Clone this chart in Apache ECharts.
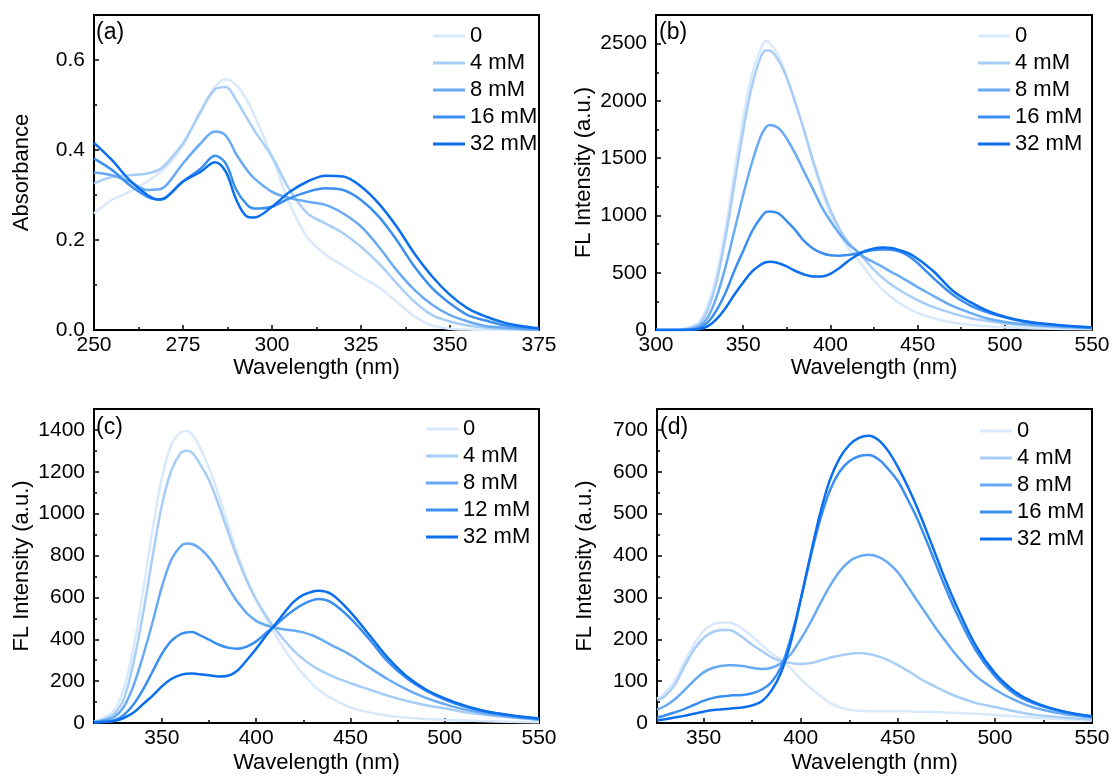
<!DOCTYPE html>
<html><head><meta charset="utf-8">
<script src="https://cdn.jsdelivr.net/npm/echarts@6/dist/echarts.min.js"></script>
<style>html,body{margin:0;padding:0;background:#fff}#chart{width:1118px;height:776px}</style>
</head><body><div id="chart"></div>
<script>
// ---------- colours ----------
const lineColors = ['#d8e9fc', '#a8cef7', '#68aaf3', '#3a8ff1', '#0b6fed'];

// ---------- panel (a): absorbance ----------
const namesA = ['0', '4 mM', '8 mM', '16 mM', '32 mM'];
const wlA = [250,255,260,265,268,270,275,280,284,287,290,293,295,300,305,310,315,320,325,330,335,340,345,350,355,360,365,370,375];
const absA_0  = [.259,.289,.307,.33,.347,.36,.41,.49,.54,.557,.544,.51,.478,.385,.28,.205,.168,.143,.118,.095,.063,.03,.01,.003,.001,0,0,0,0];
const absA_4  = [.326,.34,.344,.348,.355,.367,.415,.485,.535,.54,.51,.47,.444,.385,.311,.259,.237,.215,.185,.148,.104,.063,.033,.019,.01,.005,.003,.001,0];
const absA_8  = [.35,.344,.33,.311,.312,.319,.37,.415,.441,.432,.39,.355,.337,.307,.293,.285,.278,.259,.23,.185,.133,.089,.056,.033,.019,.009,.005,.002,.001];
const absA_16 = [.381,.356,.322,.296,.29,.294,.33,.359,.387,.37,.311,.278,.27,.274,.293,.307,.315,.311,.289,.252,.2,.141,.093,.059,.033,.021,.011,.006,.003];
const absA_32 = [.416,.378,.333,.3,.29,.293,.33,.352,.373,.352,.289,.252,.25,.274,.307,.33,.343,.341,.319,.281,.23,.17,.119,.078,.048,.03,.017,.009,.004];
const xTicksA = [250,275,300,325,350,375];
const xMinorA = [262.5,287.5,312.5,337.5,362.5];
const yTicksA = [0,0.2,0.4,0.6];
const yMinorA = [0.1,0.3,0.5];

// ---------- panel (b) ----------
const namesB = ['0', '4 mM', '8 mM', '16 mM', '32 mM'];
const wlB = [300,310,315,320,325,330,335,340,345,350,355,360,363,365,370,375,380,385,390,395,400,405,410,415,420,425,430,435,440,445,450,455,460,470,480,490,500,510,520,535,550];
const flB_0  = [0,2,6,30,75,230,500,900,1380,1850,2230,2450,2520,2510,2400,2210,1980,1730,1460,1220,1000,840,720,630,530,430,350,285,230,185,150,122,100,65,45,32,24,18,13,9,6];
const flB_4  = [0,1,4,20,55,190,440,820,1280,1740,2130,2380,2440,2440,2360,2200,1980,1740,1480,1250,1050,890,770,690,610,525,455,395,345,300,260,225,195,145,105,78,57,43,32,20,12];
const flB_8  = [0,0,2,10,35,120,300,560,870,1180,1460,1690,1770,1790,1765,1670,1535,1380,1230,1075,950,845,755,690,630,590,550,505,465,420,375,332,290,210,150,100,70,52,40,28,18];
const flB_16 = [0,0,1,5,18,72,180,330,520,690,860,980,1030,1035,1020,950,870,775,712,672,652,648,655,668,685,698,703,700,683,645,585,512,440,310,215,155,110,75,55,35,22];
const flB_32 = [0,0,0,2,8,36,100,195,310,415,510,570,592,595,585,555,515,485,468,468,490,540,600,650,690,712,720,715,695,668,622,565,500,345,245,168,116,80,58,38,24];
const xTicksB = [300,350,400,450,500,550];
const xMinorB = [325,375,425,475,525];
const yTicksB = [0,500,1000,1500,2000,2500];
const yMinorB = [250,750,1250,1750,2250];

// ---------- panel (c) ----------
const namesC = ['0', '4 mM', '8 mM', '12 mM', '32 mM'];
const wlC = [314,320,325,330,335,340,345,350,355,360,363,366,370,375,380,385,390,395,400,405,410,415,420,425,430,433,440,450,460,470,480,490,500,510,520,535,550];
const flC_0  = [8,30,65,170,360,630,920,1170,1330,1388,1395,1378,1320,1220,1090,950,810,690,585,505,425,352,288,232,185,160,118,75,50,35,26,19,15,12,9,6,4];
const flC_4  = [6,20,46,120,290,520,790,1040,1205,1290,1300,1292,1240,1160,1045,915,790,680,590,515,450,395,345,305,272,256,225,190,160,130,105,85,70,52,40,26,16];
const flC_8  = [5,14,30,80,180,320,480,650,780,845,858,855,835,790,725,650,580,525,488,468,455,447,442,433,418,405,372,325,265,208,160,120,90,65,48,30,16];
const flC_12 = [3,8,14,40,90,160,245,330,392,425,433,435,420,398,375,360,355,365,390,428,465,505,540,568,587,592,575,500,400,292,212,155,112,80,57,35,20];
const flC_32 = [2,5,10,25,50,90,130,175,210,230,235,236,233,228,222,226,250,300,355,415,470,528,580,612,628,632,615,530,420,310,222,160,118,85,60,37,22];
const xTicksC = [350,400,450,500,550];
const xMinorC = [325,375,425,475,525];
const yTicksC = [0,200,400,600,800,1000,1200,1400];
const yMinorC = [100,300,500,700,900,1100,1300];

// ---------- panel (d) ----------
const namesD = ['0', '4 mM', '8 mM', '16 mM', '32 mM'];
const wlD = [326,330,335,340,345,350,355,360,363,365,370,375,380,385,390,395,400,405,410,415,420,425,430,435,440,445,450,455,460,465,470,475,480,490,500,510,520,535,550];
const flD_0  = [58,72,100,145,188,220,236,240,240,238,225,207,186,166,152,130,104,84,65,48,38,32,29,28,28,28,28,28,27,27,26,25,24,22,19,16,13,9,6];
const flD_4  = [55,64,90,134,175,203,218,222,222,220,205,187,172,157,148,143,141,143,149,156,161,165,167,165,159,150,138,125,110,97,85,74,64,48,38,28,20,13,8];
const flD_8  = [32,40,56,78,101,121,132,137,138,138,136,132,129,132,143,165,200,240,285,327,362,386,398,402,397,383,360,327,292,258,224,193,163,113,80,55,37,22,13];
const flD_16 = [13,18,25,33,43,53,60,64,65,66,67,71,80,98,135,205,295,395,485,555,600,625,637,640,630,607,578,535,488,433,375,318,265,175,112,70,47,27,15];
const flD_32 = [6,9,13,17,22,27,31,33,34,35,37,42,52,78,122,195,295,400,500,580,632,664,681,686,676,650,612,566,514,456,396,336,282,186,119,76,50,28,16];
const xTicksD = [350,400,450,500,550];
const xMinorD = [325,375,425,475,525];
const yTicksD = [0,100,200,300,400,500,600,700];
const yMinorD = [50,150,250,350,450,550,650];

// ---------- layout ----------
const FONT = "'Liberation Sans', Arial, Helvetica, sans-serif";
const panels = [
  { grid:{left:94, top:15, width:445, height:315}, x:[250,375], y:[0,0.7], xT:xTicksA, xM:xMinorA, yT:yTicksA, yM:yMinorA,
    yName:'Absorbance', wl:wlA, ys:[absA_0,absA_4,absA_8,absA_16,absA_32], names:namesA, tag:'(a)', tagPos:[96,21],
    legend:[433,25], dec:1, xGap:25 },
  { grid:{left:656, top:15, width:436, height:315}, x:[300,550], y:[0,2750], xT:xTicksB, xM:xMinorB, yT:yTicksB, yM:yMinorB,
    yName:'FL Intensity (a.u.)', wl:wlB, ys:[flB_0,flB_4,flB_8,flB_16,flB_32], names:namesB, tag:'(b)', tagPos:[659,21],
    legend:[978,25], dec:0, xGap:25 },
  { grid:{left:94, top:409, width:445, height:314}, x:[314,550], y:[0,1500], xT:xTicksC, xM:xMinorC, yT:yTicksC, yM:yMinorC,
    yName:'FL Intensity (a.u.)', wl:wlC, ys:[flC_0,flC_4,flC_8,flC_12,flC_32], names:namesC, tag:'(c)', tagPos:[96,416],
    legend:[426,418], dec:0, xGap:29 },
  { grid:{left:657, top:409, width:435, height:314}, x:[326,550], y:[0,750], xT:xTicksD, xM:xMinorD, yT:yTicksD, yM:yMinorD,
    yName:'FL Intensity (a.u.)', wl:wlD, ys:[flD_0,flD_4,flD_8,flD_16,flD_32], names:namesD, tag:'(d)', tagPos:[660,416],
    legend:[980,420], dec:0, xGap:29 }
];

const tickTxt = { fontSize:21, color:'#000', fontFamily:FONT };
const nameTxt = { fontSize:22, color:'#000', fontFamily:FONT };
const option = { animation:false, backgroundColor:'#fff', grid:[], xAxis:[], yAxis:[], series:[], legend:[], title:[] };

panels.forEach((p, i) => {
  option.grid.push(Object.assign({ show:true, borderColor:'#000', borderWidth:2, containLabel:false, backgroundColor:'transparent' }, p.grid));
  // main x axis
  option.xAxis.push({ type:'value', gridIndex:i, min:p.x[0], max:p.x[1], position:'bottom',
    name:'Wavelength (nm)', nameLocation:'middle', nameGap:p.xGap, nameTextStyle:nameTxt,
    axisLine:{ show:true, onZero:false, lineStyle:{ color:'#000', width:2 } },
    axisTick:{ show:true, inside:true, length:5, lineStyle:{ color:'#000', width:1.5 }, customValues:p.xT },
    axisLabel:{ show:true, customValues:p.xT, margin:5, ...tickTxt },
    splitLine:{ show:false } });
  // minor x ticks
  option.xAxis.push({ type:'value', gridIndex:i, min:p.x[0], max:p.x[1], position:'bottom',
    axisLine:{ show:false, onZero:false }, axisLabel:{ show:false },
    axisTick:{ show:true, inside:true, length:3, lineStyle:{ color:'#000', width:1.5 }, customValues:p.xM },
    splitLine:{ show:false } });
  // main y axis
  option.yAxis.push({ type:'value', gridIndex:i, min:p.y[0], max:p.y[1], position:'left',
    name:p.yName, nameLocation:'middle', nameGap:61, nameTextStyle:nameTxt,
    axisLine:{ show:true, onZero:false, lineStyle:{ color:'#000', width:2 } },
    axisTick:{ show:true, inside:true, length:5, lineStyle:{ color:'#000', width:1.5 }, customValues:p.yT },
    axisLabel:{ show:true, customValues:p.yT, margin:9, formatter:(v)=>Number(v).toFixed(p.dec), ...tickTxt },
    splitLine:{ show:false } });
  // minor y ticks
  option.yAxis.push({ type:'value', gridIndex:i, min:p.y[0], max:p.y[1], position:'left',
    axisLine:{ show:false, onZero:false }, axisLabel:{ show:false },
    axisTick:{ show:true, inside:true, length:3, lineStyle:{ color:'#000', width:1.5 }, customValues:p.yM },
    splitLine:{ show:false } });

  p.ys.forEach((vals, j) => {
    option.series.push({ type:'line', name:p.names[j], xAxisIndex:2*i, yAxisIndex:2*i,
      data:p.wl.map((w, k) => [w, vals[k]]), smooth:0.35, symbol:'none', showSymbol:false,
      lineStyle:{ color:lineColors[j], width:2.5 }, itemStyle:{ color:lineColors[j] }, z:2+j });
  });

  option.legend.push({ orient:'vertical', left:p.legend[0], top:p.legend[1], padding:0,
    icon:'rect', itemWidth:32, itemHeight:3, itemGap:5, data:p.names, selectedMode:false,
    textStyle:{ ...nameTxt, lineHeight:22 } });
  option.title.push({ text:p.tag, left:p.tagPos[0], top:p.tagPos[1], padding:0,
    textStyle:{ ...nameTxt, fontSize:23, fontWeight:'normal' } });
});

const chart = echarts.init(document.getElementById('chart'), null, { renderer:'canvas' });
chart.setOption(option);
</script>
</body></html>
